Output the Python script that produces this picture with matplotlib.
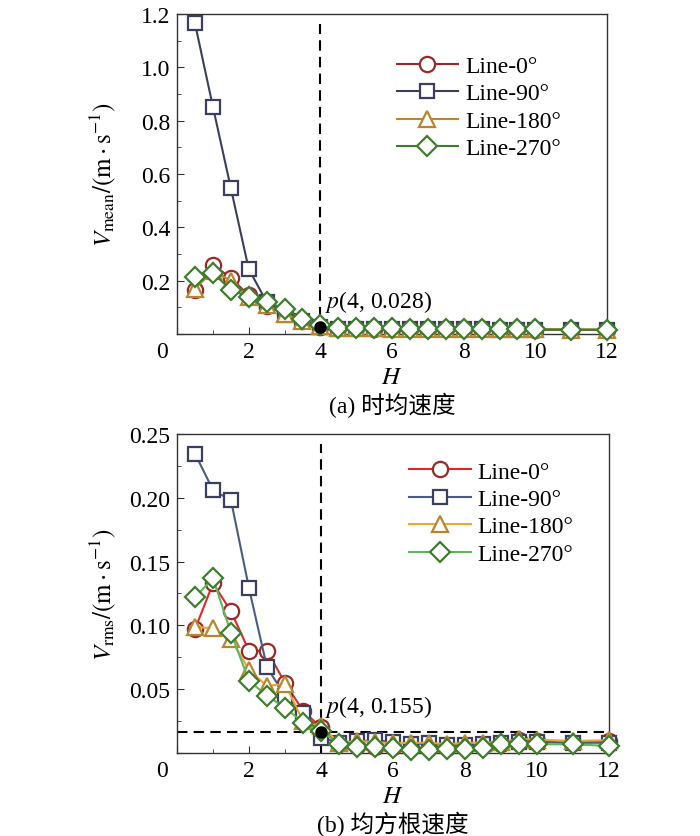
import matplotlib.pyplot as plt
from matplotlib.ticker import MultipleLocator

plt.rcParams['font.family'] = ['Liberation Serif', 'Noto Sans CJK SC']
plt.rcParams['mathtext.fontset'] = 'stix'
plt.rcParams['font.size'] = 16

# H positions
H = [0.5, 1, 1.5, 2, 2.5, 3, 3.5, 4, 4.5, 5, 5.5, 6, 6.5, 7, 7.5, 8, 8.5, 9, 9.5, 10, 11, 12]
labels = ['Line-0°', 'Line-90°', 'Line-180°', 'Line-270°']

# (a) time-averaged velocity
v_mean_0 = [0.165, 0.26, 0.21, 0.145, 0.105, 0.08, 0.05, 0.028, 0.022, 0.021, 0.02, 0.02,
            0.019, 0.019, 0.018, 0.018, 0.017, 0.017, 0.017, 0.016, 0.016, 0.015]
v_mean_90 = [1.165, 0.853, 0.548, 0.244, 0.12, 0.07, 0.048, 0.028, 0.02, 0.019, 0.019, 0.018,
             0.018, 0.018, 0.017, 0.017, 0.017, 0.016, 0.016, 0.016, 0.015, 0.015]
v_mean_180 = [0.17, 0.235, 0.2, 0.14, 0.11, 0.075, 0.05, 0.03, 0.022, 0.021, 0.021, 0.02,
              0.02, 0.019, 0.019, 0.018, 0.018, 0.017, 0.017, 0.017, 0.016, 0.016]
v_mean_270 = [0.215, 0.23, 0.165, 0.14, 0.12, 0.095, 0.056, 0.032, 0.024, 0.022, 0.021, 0.021,
              0.02, 0.02, 0.019, 0.019, 0.018, 0.018, 0.018, 0.017, 0.016, 0.016]

# (b) RMS velocity
v_rms_0 = [0.097, 0.133, 0.111, 0.080, 0.080, 0.055, 0.033, 0.020, 0.007, 0.0055, 0.0045, 0.0045,
           0.004, 0.004, 0.004, 0.005, 0.006, 0.007, 0.010, 0.009, 0.008, 0.0094]
v_rms_90 = [0.2346, 0.206, 0.198, 0.129, 0.067, 0.045, 0.031, 0.012, 0.008, 0.009, 0.010, 0.0086,
            0.007, 0.0075, 0.006, 0.006, 0.007, 0.008, 0.0085, 0.0085, 0.008, 0.008]
v_rms_180 = [0.099, 0.0976, 0.089, 0.065, 0.0526, 0.054, 0.025, 0.021, 0.008, 0.0094, 0.0086, 0.0076,
             0.008, 0.008, 0.0068, 0.008, 0.008, 0.0086, 0.011, 0.0105, 0.0094, 0.010]
v_rms_270 = [0.122, 0.137, 0.094, 0.0565, 0.0448, 0.0356, 0.0238, 0.0173, 0.0068, 0.005, 0.005, 0.0042,
             0.0024, 0.0024, 0.003, 0.0034, 0.0042, 0.0068, 0.0068, 0.0068, 0.0068, 0.0055]

p_a = (4, 0.028)
p_b = (4, 0.0165)

x_ticks = [0, 2, 4, 6, 8, 10, 12]
y_ticks_a = [0, 0.2, 0.4, 0.6, 0.8, 1.0, 1.2]
y_ticks_b = [0, 0.05, 0.10, 0.15, 0.20, 0.25]

markers = ['o', 's', '^', 'D']
edge_colors = ['#9a2a26', '#3b3f5e', '#b8862e', '#3f7d2e']
line_a = ['#9a2a26', '#3b3f5e', '#b8862e', '#3f7d2e']
line_b = ['#e3262a', '#4a5b88', '#f0a431', '#5cb85c']
msizes = [11, 10.5, 11.5, 10]

fig = plt.figure(figsize=(7, 8.37), dpi=100)
ax1 = fig.add_axes([0.2529, 0.5998, 0.6143, 0.3823])
ax2 = fig.add_axes([0.2529, 0.0992, 0.6171, 0.3811])


def draw(ax, series, lcolors, p, yticks, fmt, ylabel, ylpad, ptext, caption, leg_anchor, hline):
    for ys, lab, m, ec, lc, ms in zip(series, labels, markers, edge_colors, lcolors, msizes):
        ax.plot(H, ys, color=lc, lw=1.5, marker=m, markersize=ms, markerfacecolor='white',
                markeredgecolor=ec, markeredgewidth=1.6, label=lab, zorder=3, clip_on=False)
    ax.axvline(4, ymax=0.97, color='black', ls=(0, (5, 3)), lw=1.5, zorder=2)
    if hline:
        ax.axhline(p[1], color='black', ls=(0, (5, 3)), lw=1.5, zorder=2)
    ax.plot([p[0]], [p[1]], 'o', color='black', markersize=8, zorder=4)
    ax.annotate(ptext, xy=p, xytext=(3, 9), textcoords='offset points', fontsize=17,
                ha='left', va='bottom')
    ax.set_xticks(x_ticks)
    ax.set_xticklabels(['' if v == 0 else str(v) for v in x_ticks])
    ax.xaxis.set_minor_locator(MultipleLocator(1))
    ax.set_yticks(yticks)
    ax.set_yticklabels(['' if v == 0 else fmt.format(v) for v in yticks])
    ax.yaxis.set_minor_locator(MultipleLocator(yticks[1] / 2))
    ax.set_xlim(0, 12)
    ax.set_ylim(yticks[0], yticks[-1])
    ax.tick_params(which='both', direction='in', top=False, right=False, labelsize=17,
                   color='#333333')
    ax.tick_params(which='major', length=5, pad=5)
    ax.tick_params(which='minor', length=3)
    ax.annotate('0', xy=(0, 0), xycoords='axes fraction', xytext=(-11, -5),
                textcoords='offset points', ha='center', va='top', fontsize=17)
    for s in ax.spines.values():
        s.set_color('#333333')
        s.set_linewidth(1.0)
    ax.set_xlabel(r'$H$', fontsize=18, labelpad=3)
    ax.set_ylabel(ylabel, fontsize=18, labelpad=ylpad)
    ax.annotate(caption, xy=(0.5, 0), xycoords='axes fraction', xytext=(0, -51),
                textcoords='offset points', ha='center', va='center', fontsize=17)
    ax.legend(loc='upper right', bbox_to_anchor=leg_anchor, frameon=False, fontsize=17,
              handlelength=2.6, handletextpad=0.3, labelspacing=0.25, borderaxespad=0)


draw(ax1, [v_mean_0, v_mean_90, v_mean_180, v_mean_270], line_a, p_a, y_ticks_a, '{:.1f}',
     r'$V_{\mathrm{mean}}/(\mathrm{m \cdot s^{-1}})$', 16, r'$p$(4, 0.028)', '(a) 时均速度',
     (0.915, 0.90), False)
draw(ax2, [v_rms_0, v_rms_90, v_rms_180, v_rms_270], line_b, p_b, y_ticks_b, '{:.2f}',
     r'$V_{\mathrm{rms}}/(\mathrm{m \cdot s^{-1}})$', 8, r'$p$(4, 0.155)', '(b) 均方根速度',
     (0.94, 0.945), True)

fig.savefig('out.png', dpi=100, facecolor='white')
